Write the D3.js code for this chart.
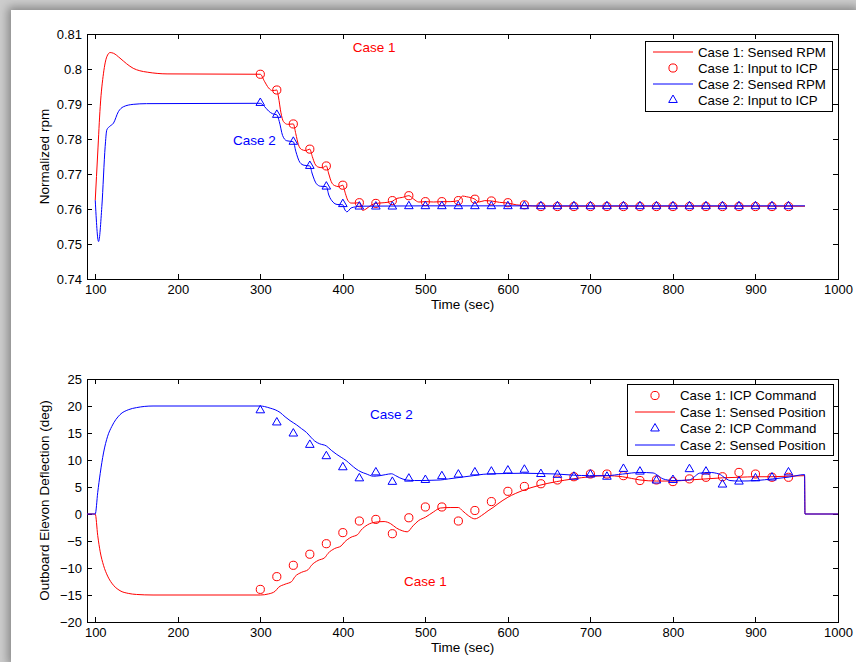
<!DOCTYPE html>
<html>
<head>
<meta charset="utf-8">
<script src="https://cdn.jsdelivr.net/npm/d3@7"></script>
<style>
  body { margin: 0; width: 856px; height: 662px; overflow: hidden; position: relative; background: #cdcdcd; }
  #card { position: absolute; left: 11px; top: 10px; width: 845px; height: 652px; background: #fff; box-shadow: 0 0 9px 3px rgba(0,0,0,0.35); }
  #chart { position: absolute; left: 0; top: 0; }
  svg text { font-family: 'Liberation Sans', Arial, Helvetica, sans-serif; fill: #000; }
  .axis text { font-size: 13px; }
  .axis line { stroke: #000; shape-rendering: crispEdges; }
  .axis path { display: none; }
</style>
</head>
<body>
<div id="card"></div>
<div id="chart"></div>
<script>
// shared time axis
const timeTicks = [100, 200, 300, 400, 500, 600, 700, 800, 900, 1000];
const icpTimes = [300, 320, 340, 360, 380, 400, 420, 440, 460, 480, 500, 520, 540, 560, 580,
  600, 620, 640, 660, 680, 700, 720, 740, 760, 780, 800, 820, 840, 860, 880, 900, 920, 940];

// top panel: normalized rpm
const rpmTicks = [0.74, 0.75, 0.76, 0.77, 0.78, 0.79, 0.8, 0.81];
const rpmTickLabels = ['0.74', '0.75', '0.76', '0.77', '0.78', '0.79', '0.8', '0.81'];

const rpmTime1 = [100, 103, 106, 110, 114, 118, 122, 130, 138, 146, 154, 163, 187, 300, 305, 310, 315, 320,
  322, 325, 328, 333, 340, 343, 346, 350, 355, 360, 363, 366, 370, 375, 380, 383, 386, 390, 395, 400,
  403, 406, 410, 415, 420, 424, 428, 435, 440, 450, 460, 465, 472, 480, 486, 492, 500, 510, 520, 530,
  540, 545, 550, 560, 565, 572, 580, 590, 600, 610, 620, 640, 700, 800, 900, 960];
const rpmCase1 = [0.7625, 0.7760, 0.7892, 0.7988, 0.8035, 0.8047, 0.8045, 0.8031, 0.8015, 0.8002, 0.7995, 0.7991, 0.7986, 0.7985, 0.7965, 0.7946, 0.7938, 0.7940,
  0.7920, 0.7875, 0.7850, 0.7842, 0.7843, 0.7815, 0.7785, 0.7770, 0.7767, 0.7771, 0.7750, 0.7730, 0.7720, 0.7718, 0.7723, 0.7700, 0.7678, 0.7667, 0.7664, 0.7668,
  0.7645, 0.7625, 0.7617, 0.7617, 0.7618, 0.7596, 0.7600, 0.7612, 0.7616, 0.7618, 0.7622, 0.7630, 0.7633, 0.7638, 0.7628, 0.7620, 0.7621, 0.7620, 0.7621, 0.7621,
  0.7624, 0.7637, 0.7635, 0.7628, 0.7620, 0.7624, 0.7623, 0.7619, 0.7617, 0.7612, 0.7610, 0.7608, 0.7608, 0.7608, 0.7608, 0.7608];
const rpmIcp1 = [0.7985, 0.7940, 0.7843, 0.7771, 0.7723, 0.7668, 0.7618, 0.7616, 0.7624, 0.7638, 0.7621, 0.7621, 0.7624, 0.7628, 0.7623,
  0.7618, 0.7612, 0.7607, 0.7607, 0.7607, 0.7607, 0.7607, 0.7607, 0.7607, 0.7607, 0.7607, 0.7607, 0.7607, 0.7607, 0.7607, 0.7607, 0.7607, 0.7607];

const rpmTime2 = [100, 104, 108, 112, 114, 118, 122, 128, 134, 146, 162, 300, 305, 310, 315, 320, 323, 327, 332, 340,
  343, 348, 353, 360, 363, 368, 373, 380, 383, 388, 393, 400, 402, 405, 410, 415, 420, 500, 600, 700, 800, 900, 960];
const rpmCase2 = [0.7625, 0.7507, 0.7607, 0.7778, 0.7826, 0.7837, 0.7845, 0.7878, 0.7892, 0.7899, 0.7901, 0.7902, 0.7893, 0.7880, 0.7872, 0.7869, 0.7850, 0.7810, 0.7795, 0.7792,
  0.7765, 0.7733, 0.7725, 0.7723, 0.7700, 0.7672, 0.7665, 0.7664, 0.7640, 0.7620, 0.7613, 0.7612, 0.7600, 0.7592, 0.7603, 0.7606, 0.7608, 0.7609, 0.7609, 0.7609, 0.7609, 0.7609, 0.7609];
const rpmIcp2 = [0.7903, 0.7869, 0.7792, 0.7723, 0.7664, 0.7614, 0.7607, 0.7607, 0.7607, 0.7608, 0.7608, 0.7608, 0.7608, 0.7608, 0.7608,
  0.7608, 0.7608, 0.7608, 0.7608, 0.7608, 0.7608, 0.7608, 0.7608, 0.7608, 0.7608, 0.7608, 0.7608, 0.7608, 0.7608, 0.7608, 0.7608, 0.7608, 0.7608];

// bottom panel: outboard elevon deflection
const deflTicks = [-20, -15, -10, -5, 0, 5, 10, 15, 20, 25];
const deflTickLabels = ['\u221220', '\u221215', '\u221210', '\u22125', '0', '5', '10', '15', '20', '25'];

const deflTime1 = [90, 100, 103, 106, 110, 115, 120, 130, 140, 150, 170, 300, 310, 318, 322, 330, 338, 342, 350, 358,
  362, 370, 378, 382, 390, 398, 402, 410, 418, 422, 430, 440, 450, 458, 465, 472, 478, 485, 492, 500,
  510, 518, 530, 540, 545, 552, 560, 568, 576, 582, 588, 600, 618, 638, 659, 679, 699, 719, 739, 760,
  780, 800, 820, 840, 860, 880, 900, 920, 959.5, 960, 1000];
const deflCase1 = [0, 0, -4, -7, -9.5, -11.5, -12.8, -14.2, -14.7, -14.9, -15, -15, -14.8, -14.3, -13.6, -13.0, -12.5, -11.6, -10.8, -10.3,
  -9.5, -8.6, -8.1, -7.3, -6.4, -5.9, -5.2, -4.3, -3.8, -3.0, -2.0, -1.5, -1.4, -1.8, -2.6, -3.1, -3.3, -2.2, -1.2, -0.6,
  0.4, 1.1, 1.2, 1.2, 0.6, -0.3, -0.9, -0.3, 0.6, 1.2, 1.9, 3.1, 4.35, 5.3, 6.0, 6.5, 6.9, 7.1, 6.9, 6.3,
  6.1, 6.1, 6.3, 6.5, 6.7, 6.8, 6.9, 6.9, 7.1, 0, 0];
const deflIcp1 = [-13.96, -11.6, -9.5, -7.45, -5.5, -3.45, -1.3, -1.0, -3.65, -0.7, 1.3, 1.3, -1.3, 0.65, 2.3,
  4.2, 5.1, 5.6, 6.3, 6.9, 7.4, 7.4, 7.1, 6.2, 6.3, 6.0, 6.5, 6.8, 6.9, 7.7, 7.4, 6.8, 6.8];

const deflTime2 = [90, 100, 103, 106, 110, 115, 120, 130, 140, 150, 170, 300, 305, 312, 318, 324, 330, 336, 344, 350,
  356, 362, 366, 372, 380, 386, 392, 398, 404, 410, 416, 422, 428, 437, 445, 452, 459, 464, 469, 477,
  487, 497, 508, 518, 528, 538, 548, 558, 570, 582, 598, 618, 638, 659, 679, 699, 719, 739, 760, 776,
  782, 788, 800, 820, 826, 832, 844, 856, 862, 869, 881, 901, 921, 941, 959.5, 960, 1000];
const deflCase2 = [0, 0, 4, 7.5, 11.3, 14.4, 16.2, 18.4, 19.3, 19.7, 20, 20, 19.9, 19.6, 19.3, 18.8, 18.0, 17.3, 16.5, 15.8,
  15.1, 14.1, 13.5, 13.0, 12.6, 11.8, 11.1, 10.5, 9.9, 9.1, 8.35, 7.8, 7.45, 7.0, 7.1, 7.3, 7.45, 7.1, 6.7, 6.3,
  6.2, 6.2, 6.25, 6.3, 6.5, 6.7, 6.9, 7.1, 7.35, 7.45, 7.5, 7.55, 7.5, 7.4, 7.2, 7.1, 7.1, 7.4, 7.7, 7.6,
  7.1, 6.5, 6.2, 6.3, 6.9, 7.55, 7.7, 7.4, 6.8, 6.2, 6.1, 6.2, 6.5, 6.85, 7.3, 0, 0];
const deflIcp2 = [19.2, 16.95, 14.9, 12.8, 10.7, 8.65, 6.6, 7.7, 5.95, 6.55, 6.3, 7.0, 7.3, 7.7, 7.85,
  8.05, 8.2, 7.4, 7.25, 6.9, 7.3, 6.9, 8.35, 7.85, 6.2, 6.3, 8.3, 7.85, 5.45, 6.0, 6.6, 6.75, 7.7];

const RED = '#ff0000', BLUE = '#0000ff';

class Panel {

  constructor(svg, box, yDomain) {
    this.svg = svg;
    this.box = box;
    this.x = d3.scaleLinear().domain([90, 1000]).range([box.left, box.left + box.width]);
    this.y = d3.scaleLinear().domain(yDomain).range([box.top + box.height, box.top]);
    this.g = svg.append('g').attr('class', 'panel');
  }

  drawAxes(yTicks, yTickLabels, yLabel) {
    let b = this.box;
    let labelOf = d => yTickLabels[yTicks.indexOf(d)];

    this.g.append('g').attr('class', 'axis')
      .attr('transform', 'translate(' + [0, b.top + b.height] + ')')
      .call(d3.axisBottom(this.x).tickValues(timeTicks).tickFormat(d3.format('d')).tickSize(-5).tickPadding(6));
    this.g.append('g').attr('class', 'axis')
      .attr('transform', 'translate(' + [0, b.top] + ')')
      .call(d3.axisTop(this.x).tickValues(timeTicks).tickFormat('').tickSize(-5));
    this.g.append('g').attr('class', 'axis')
      .attr('transform', 'translate(' + [b.left, 0] + ')')
      .call(d3.axisLeft(this.y).tickValues(yTicks).tickFormat(labelOf).tickSize(-5).tickPadding(5));
    this.g.append('g').attr('class', 'axis')
      .attr('transform', 'translate(' + [b.left + b.width, 0] + ')')
      .call(d3.axisRight(this.y).tickValues(yTicks).tickFormat('').tickSize(-5));

    this.g.append('rect')
      .attr('x', b.left + 0.5).attr('y', b.top + 0.5)
      .attr('width', b.width).attr('height', b.height)
      .style('fill', 'none').style('stroke', '#000').style('stroke-width', 1);

    this.g.append('text')
      .attr('transform', 'translate(' + [b.left + b.width / 2, b.top + b.height + 30] + ')')
      .attr('text-anchor', 'middle').style('font-size', '13.5px')
      .text('Time (sec)');
    this.g.append('text')
      .attr('transform', 'translate(' + [49, b.top + b.height / 2] + ') rotate(-90)')
      .attr('text-anchor', 'middle').style('font-size', '13.5px')
      .text(yLabel);
  }

  drawLine(times, values, color) {
    let line = d3.line()
      .x((d, i) => this.x(times[i]))
      .y(d => this.y(d))
      .curve(d3.curveMonotoneX);
    this.g.append('path')
      .datum(values)
      .attr('d', line)
      .style('fill', 'none').style('stroke', color).style('stroke-width', 1);
  }

  drawMarkers(times, values, color, shape) {
    let sym = shape === 'circle'
      ? d3.symbol(d3.symbolCircle, 52)
      : d3.symbol(d3.symbolTriangle, 32);
    this.g.append('g')
      .selectAll('path')
      .data(values)
      .enter()
      .append('path')
      .attr('transform', (d, i) => 'translate(' + [this.x(times[i]), this.y(d)] + ')')
      .attr('d', sym)
      .style('fill', 'none').style('stroke', color).style('stroke-width', 1);
  }

  drawNote(t, v, text, color) {
    this.g.append('text')
      .attr('x', this.x(t)).attr('y', this.y(v))
      .attr('dy', '0.35em')
      .style('font-size', '13.5px').style('fill', color)
      .text(text);
  }

  drawLegend(box, entries) {
    let lg = this.g.append('g').attr('class', 'legend')
      .attr('transform', 'translate(' + [box.x, box.y] + ')');
    lg.append('rect')
      .attr('x', 0.5).attr('y', 0.5)
      .attr('width', box.w).attr('height', box.h)
      .style('fill', '#fff').style('stroke', '#000').style('stroke-width', 1);
    let row = lg.selectAll('g.row')
      .data(entries)
      .enter()
      .append('g')
      .attr('class', 'row')
      .attr('transform', (d, i) => 'translate(' + [0, box.first + i * box.step] + ')');
    row.filter(d => d.kind === 'line')
      .append('line')
      .attr('x1', 8).attr('x2', 48).attr('y1', 0).attr('y2', 0)
      .style('stroke', d => d.color).style('stroke-width', 1);
    row.filter(d => d.kind !== 'line')
      .append('path')
      .attr('transform', 'translate(28,0)')
      .attr('d', d => d.kind === 'circle' ? d3.symbol(d3.symbolCircle, 52)() : d3.symbol(d3.symbolTriangle, 32)())
      .style('fill', 'none').style('stroke', d => d.color).style('stroke-width', 1);
    row.append('text')
      .attr('x', 53).attr('dy', '0.35em')
      .style('font-size', '13.3px')
      .text(d => d.label);
  }
}

const svg = d3.select('#chart').append('svg')
  .attr('width', 856)
  .attr('height', 662);

// top panel
const rpmPanel = new Panel(svg, {left: 87, top: 34, width: 751, height: 245}, [0.74, 0.81]);
rpmPanel.drawAxes(rpmTicks, rpmTickLabels, 'Normalized rpm');
rpmPanel.drawLine(rpmTime1, rpmCase1, RED);
rpmPanel.drawMarkers(icpTimes, rpmIcp1, RED, 'circle');
rpmPanel.drawLine(rpmTime2, rpmCase2, BLUE);
rpmPanel.drawMarkers(icpTimes, rpmIcp2, BLUE, 'triangle');
rpmPanel.drawNote(412, 0.8063, 'Case 1', RED);
rpmPanel.drawNote(267, 0.7797, 'Case 2', BLUE);
rpmPanel.drawLegend({x: 645, y: 41, w: 187, h: 70, first: 11, step: 16}, [
  {kind: 'line', color: RED, label: 'Case 1: Sensed RPM'},
  {kind: 'circle', color: RED, label: 'Case 1: Input to ICP'},
  {kind: 'line', color: BLUE, label: 'Case 2: Sensed RPM'},
  {kind: 'triangle', color: BLUE, label: 'Case 2: Input to ICP'}
]);

// bottom panel
const deflPanel = new Panel(svg, {left: 87, top: 379, width: 751, height: 243}, [-20, 25]);
deflPanel.drawAxes(deflTicks, deflTickLabels, 'Outboard Elevon Deflection (deg)');
deflPanel.drawMarkers(icpTimes, deflIcp1, RED, 'circle');
deflPanel.drawLine(deflTime1, deflCase1, RED);
deflPanel.drawMarkers(icpTimes, deflIcp2, BLUE, 'triangle');
deflPanel.drawLine(deflTime2, deflCase2, BLUE);
deflPanel.drawNote(433, 18.4, 'Case 2', BLUE);
deflPanel.drawNote(474, -12.4, 'Case 1', RED);
deflPanel.drawLegend({x: 627, y: 384, w: 206, h: 71, first: 11.5, step: 16.5}, [
  {kind: 'circle', color: RED, label: 'Case 1: ICP Command'},
  {kind: 'line', color: RED, label: 'Case 1: Sensed Position'},
  {kind: 'triangle', color: BLUE, label: 'Case 2: ICP Command'},
  {kind: 'line', color: BLUE, label: 'Case 2: Sensed Position'}
]);
</script>
</body>
</html>
